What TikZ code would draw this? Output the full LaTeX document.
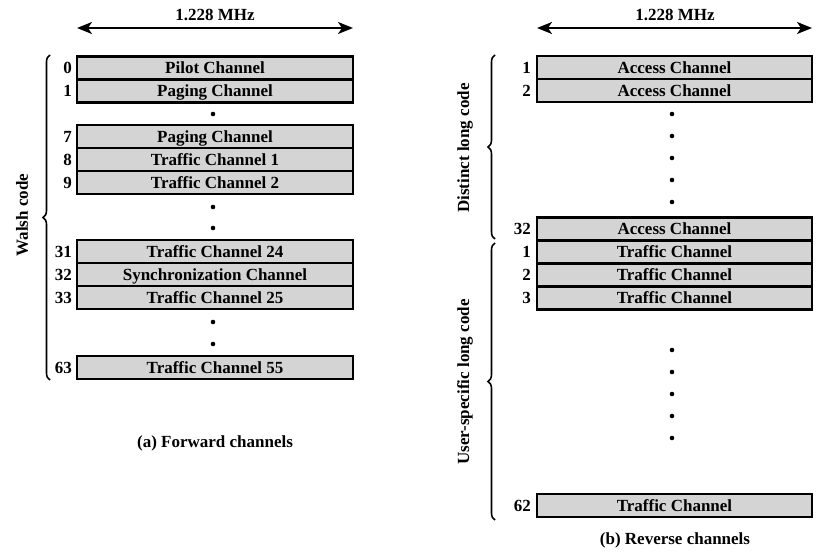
\documentclass[tikz,border=0pt]{standalone}
\usepackage{fontspec}
\setmainfont{Liberation Serif}
\usetikzlibrary{arrows.meta,decorations.pathreplacing}
\definecolor{boxgray}{RGB}{212,212,212}
\begin{document}
\begin{tikzpicture}[x=1pt,y=-1pt,
  chan/.style={draw=black,line width=2.4pt,fill=boxgray,minimum height=23pt,inner sep=0pt,text height=12pt,text depth=0.5pt,font=\fontsize{17}{19}\selectfont\bfseries},
  lchan/.style={chan,minimum width=276pt},
  rchan/.style={chan,minimum width=275pt},
  num/.style={anchor=east,inner sep=0pt,text height=12pt,text depth=0.5pt,font=\fontsize{17}{19}\selectfont\bfseries},
  lbl/.style={font=\fontsize{17}{19}\selectfont\bfseries,inner sep=0pt},
  dimarrow/.style={line width=2pt,{Stealth[length=15pt,width=12pt,inset=4pt]}-{Stealth[length=15pt,width=12pt,inset=4pt]}},
  bracestyle/.style={line width=1.6pt,decorate,decoration={brace,amplitude=7pt}},
  dotmark/.style={circle,fill=black,inner sep=0pt,minimum size=4.6pt}]
\useasboundingbox (0,0) rectangle (817,553);
% ---------- Left panel ----------
\coordinate (la1) at (77,28);
\coordinate (la2) at (353,28);
\draw[dimarrow] (la1) -- (la2);
\node[lbl] (lmhz) at (215,15) {1.228 MHz};
\node[lchan] (l0) at (215,68) {Pilot Channel};
\node[lchan] (l1) at (215,91) {Paging Channel};
\node[dotmark] (ld1) at (213,114) {};
\node[lchan] (l7) at (215,136.5) {Paging Channel};
\node[lchan] (l8) at (215,159.5) {Traffic Channel 1};
\node[lchan] (l9) at (215,182.5) {Traffic Channel 2};
\node[dotmark] (ld2) at (213,207) {};
\node[dotmark] (ld3) at (213,228) {};
\node[lchan] (l31) at (215,251.5) {Traffic Channel 24};
\node[lchan] (l32) at (215,274.5) {Synchronization Channel};
\node[lchan] (l33) at (215,297.5) {Traffic Channel 25};
\node[dotmark] (ld4) at (213,322) {};
\node[dotmark] (ld5) at (213,344) {};
\node[lchan] (l63) at (215,367.5) {Traffic Channel 55};
\node[num] (n0) at (72,68) {0};
\node[num] (n1) at (72,91) {1};
\node[num] (n7) at (72,136.5) {7};
\node[num] (n8) at (72,159.5) {8};
\node[num] (n9) at (72,182.5) {9};
\node[num] (n31) at (72,251.5) {31};
\node[num] (n32) at (72,274.5) {32};
\node[num] (n33) at (72,297.5) {33};
\node[num] (n63) at (72,367.5) {63};
\coordinate (lb1) at (50,380);
\coordinate (lb2) at (50,55);
\draw[bracestyle] (lb1) -- (lb2);
\node[lbl,rotate=90] (walsh) at (22,215) {Walsh code};
\node[lbl] (capa) at (215,443) {(a) Forward channels};
% ---------- Right panel ----------
\coordinate (ra1) at (537,28);
\coordinate (ra2) at (812,28);
\draw[dimarrow] (ra1) -- (ra2);
\node[lbl] (rmhz) at (675,15) {1.228 MHz};
\node[rchan] (r1) at (674.5,67.5) {Access Channel};
\node[rchan] (r2) at (674.5,90.5) {Access Channel};
\node[dotmark] (rd1) at (672,114) {};
\node[dotmark] (rd2) at (672,136) {};
\node[dotmark] (rd3) at (672,158) {};
\node[dotmark] (rd4) at (672,180) {};
\node[dotmark] (rd5) at (672,202) {};
\node[rchan] (r32) at (674.5,229) {Access Channel};
\node[rchan] (t1) at (674.5,252) {Traffic Channel};
\node[rchan] (t2) at (674.5,275) {Traffic Channel};
\node[rchan] (t3) at (674.5,298) {Traffic Channel};
\node[dotmark] (rd6) at (672,350) {};
\node[dotmark] (rd7) at (672,372) {};
\node[dotmark] (rd8) at (672,394) {};
\node[dotmark] (rd9) at (672,416) {};
\node[dotmark] (rd10) at (672,438) {};
\node[rchan] (t62) at (674.5,505.5) {Traffic Channel};
\node[num] (m1) at (531,67.5) {1};
\node[num] (m2) at (531,90.5) {2};
\node[num] (m32) at (531,229) {32};
\node[num] (k1) at (531,252) {1};
\node[num] (k2) at (531,275) {2};
\node[num] (k3) at (531,298) {3};
\node[num] (k62) at (531,505.5) {62};
\coordinate (rb1) at (495,239);
\coordinate (rb2) at (495,55);
\draw[bracestyle] (rb1) -- (rb2);
\coordinate (rb3) at (495,520);
\coordinate (rb4) at (495,243);
\draw[bracestyle] (rb3) -- (rb4);
\node[lbl,rotate=90] (dist) at (465,148) {Distinct long code};
\node[lbl,rotate=90] (user) at (465,382) {User-specific long code};
\node[lbl] (capb) at (675,540) {(b) Reverse channels};
\end{tikzpicture}
\end{document}
